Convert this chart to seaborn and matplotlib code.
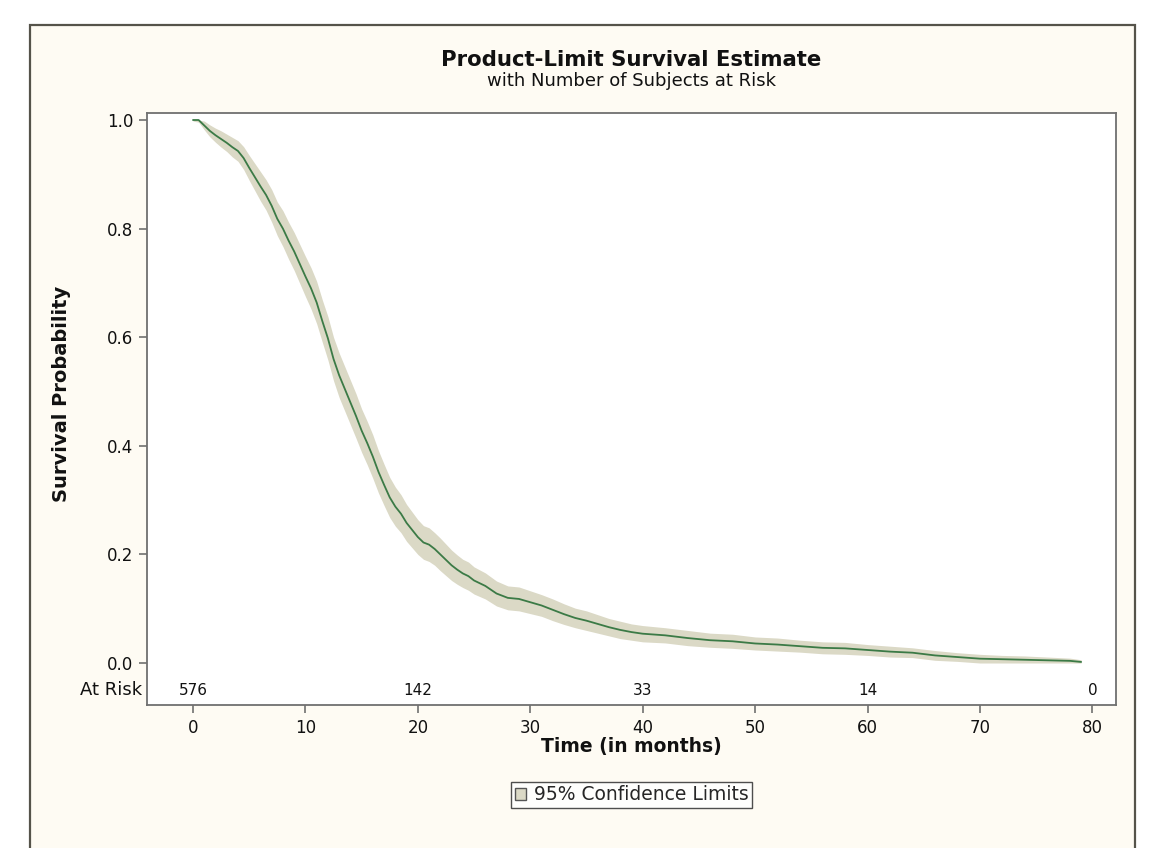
import numpy as np
import pandas as pd
import matplotlib
matplotlib.use("Agg")
import matplotlib.pyplot as plt
from matplotlib.patches import Rectangle, Patch
import seaborn as sns

# ---------------- data ----------------
time_months = [0.0, 0.5, 1.0, 1.5, 2.0, 2.5, 3.0, 3.5, 4.0, 4.5, 5.0, 5.5, 6.0, 6.5,
               7.0, 7.5, 8.0, 8.5, 9.0, 9.5, 10.0, 10.5, 11.0, 11.5, 12.0, 12.5,
               13.0, 13.5, 14.0, 14.5, 15.0, 15.5, 16.0, 16.5, 17.0, 17.5, 18.0,
               18.5, 19.0, 19.5, 20.0, 20.5, 21.0, 21.5, 22.0, 22.5, 23.0, 23.5,
               24.0, 24.5, 25.0, 26.0, 27.0, 28.0, 29.0, 30.0, 31.0, 32.0, 33.0,
               34.0, 35.0, 36.0, 37.0, 38.0, 39.0, 40.0, 42.0, 44.0, 46.0, 48.0,
               50.0, 52.0, 54.0, 56.0, 58.0, 60.0, 62.0, 64.0, 66.0, 68.0, 70.0,
               72.0, 74.0, 76.0, 78.0, 79.0]
survival = [1.000, 1.000, 0.990, 0.980, 0.972, 0.965, 0.958, 0.950, 0.943, 0.930,
            0.912, 0.895, 0.878, 0.862, 0.842, 0.818, 0.800, 0.778, 0.758, 0.735,
            0.712, 0.690, 0.664, 0.630, 0.598, 0.560, 0.530, 0.505, 0.480, 0.455,
            0.428, 0.405, 0.380, 0.352, 0.328, 0.305, 0.288, 0.275, 0.258, 0.245,
            0.232, 0.222, 0.218, 0.210, 0.200, 0.190, 0.180, 0.172, 0.165, 0.160,
            0.152, 0.142, 0.128, 0.120, 0.118, 0.112, 0.106, 0.098, 0.090, 0.083,
            0.078, 0.072, 0.066, 0.061, 0.057, 0.054, 0.051, 0.046, 0.042, 0.040,
            0.036, 0.034, 0.031, 0.028, 0.027, 0.024, 0.021, 0.019, 0.014, 0.011,
            0.008, 0.007, 0.006, 0.005, 0.004, 0.002]
# half-width of the 95% confidence band
ci_halfwidth = [0.002, 0.004, 0.008, 0.011, 0.013, 0.015, 0.016, 0.018, 0.019, 0.021,
                0.023, 0.025, 0.027, 0.028, 0.030, 0.031, 0.033, 0.034, 0.035, 0.036,
                0.037, 0.038, 0.039, 0.039, 0.040, 0.040, 0.041, 0.041, 0.041, 0.041,
                0.040, 0.040, 0.040, 0.039, 0.038, 0.037, 0.036, 0.035, 0.034, 0.033,
                0.032, 0.031, 0.031, 0.030, 0.030, 0.029, 0.028, 0.027, 0.026, 0.026,
                0.025, 0.024, 0.023, 0.022, 0.022, 0.021, 0.020, 0.020, 0.019, 0.018,
                0.018, 0.017, 0.016, 0.016, 0.015, 0.015, 0.014, 0.014, 0.013, 0.013,
                0.012, 0.012, 0.011, 0.011, 0.011, 0.010, 0.010, 0.009, 0.009, 0.008,
                0.008, 0.007, 0.007, 0.006, 0.005, 0.004]

risk_times = [0, 20, 40, 60, 80]
risk_counts = ["576", "142", "33", "14", "0"]

x_ticks = [0, 10, 20, 30, 40, 50, 60, 70, 80]
y_ticks = [0.0, 0.2, 0.4, 0.6, 0.8, 1.0]

title = "Product-Limit Survival Estimate"
subtitle = "with Number of Subjects at Risk"
x_label = "Time (in months)"
y_label = "Survival Probability"
legend_label = "95% Confidence Limits"

# ---------------- styling ----------------
sns.set_theme(style="white")
plt.rcParams["font.family"] = ["DejaVu Sans"]

LINE = "#3b7a46"
BAND = "#dbd9c6"
PANEL = "#fefbf3"
FRAME = "#55534a"
AXCOL = "#707070"
TXT = "#111111"

W, H = 1153, 848
fig = plt.figure(figsize=(W / 100, H / 100), dpi=100)
fig.patch.set_facecolor("white")

# outer panel with border (drawn beneath the axes)
panel = Rectangle((30 / W, -0.05), (1135 - 30) / W, (H - 25) / H + 0.05,
                  transform=fig.transFigure, facecolor=PANEL,
                  edgecolor=FRAME, linewidth=1.6, zorder=-10)
fig.patches.append(panel)

ax = fig.add_axes([147 / W, (H - 705) / H, (1116 - 147) / W, (705 - 113) / H])
ax.set_zorder(5)
ax.set_facecolor("white")

df = pd.DataFrame({"t": time_months, "s": survival, "hw": ci_halfwidth})
lower = np.clip(df["s"] - df["hw"], 0, 1)
upper = np.clip(df["s"] + df["hw"], 0, 1)

ax.fill_between(df["t"], lower, upper, color=BAND, linewidth=0, zorder=1)
sns.lineplot(data=df, x="t", y="s", ax=ax, color=LINE, linewidth=1.3,
             estimator=None, zorder=2)

ax.set_xlim(-4.09, 82.1)
ax.set_ylim(-0.0773, 1.0129)
ax.set_xticks(x_ticks)
ax.set_xticklabels([str(v) for v in x_ticks])
ax.set_yticks(y_ticks)
ax.set_yticklabels([f"{v:.1f}" for v in y_ticks])

for sp in ax.spines.values():
    sp.set_color(AXCOL)
    sp.set_linewidth(1.3)
ax.tick_params(axis="both", which="both", direction="out", length=6, width=1.2,
               color=AXCOL, labelsize=12, labelcolor=TXT, pad=4,
               bottom=True, left=True)

ax.set_xlabel(x_label, fontsize=13.5, fontweight="bold", color=TXT)
ax.set_ylabel(y_label, fontsize=14, fontweight="bold", color=TXT)
ax.xaxis.set_label_coords(0.5, -0.0693)
ax.yaxis.set_label_coords(-0.088, 0.525)
ax.xaxis.label.set_va("center")
ax.yaxis.label.set_va("center")

# at-risk row
risk_y = -0.050
for t, n in zip(risk_times, risk_counts):
    ax.text(t, risk_y, n, ha="center", va="center", fontsize=11, color=TXT)
ax.text(-0.005, risk_y, "At Risk", transform=ax.get_yaxis_transform(), ha="right",
        va="center", fontsize=13, color=TXT)

# titles
cx = (147 + 1116) / 2 / W
fig.text(cx, 1 - 60 / H, title, ha="center", va="center", fontsize=15.3,
         fontweight="bold", color=TXT)
fig.text(cx, 1 - 81 / H, subtitle, ha="center", va="center", fontsize=13,
         color=TXT)

# legend
handle = Patch(facecolor=BAND, edgecolor="#555555", linewidth=1.0)
leg = fig.legend(handles=[handle], labels=[legend_label], loc="center",
                 bbox_to_anchor=(cx, 1 - 795 / H), frameon=True, fancybox=False,
                 fontsize=13.5, handlelength=0.6, handleheight=0.6, handletextpad=0.4,
                 borderpad=0.2, borderaxespad=0)
leg.get_frame().set_edgecolor("#222222")
leg.get_frame().set_linewidth(1.0)
leg.get_frame().set_facecolor("white")

fig.savefig("out.png", dpi=100)
